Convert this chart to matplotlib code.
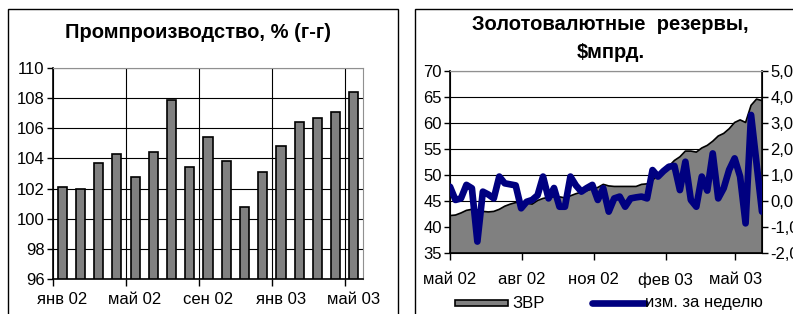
import datetime as dt
import numpy as np
import matplotlib
matplotlib.use('Agg')
import matplotlib.pyplot as plt
import matplotlib.dates as mdates
from matplotlib.patches import Rectangle
from matplotlib.lines import Line2D

plt.rcParams['font.family'] = ['Liberation Sans', 'DejaVu Sans']

# left chart: industrial production, % y/y (Jan 02 .. May 03)
prod_values = [102.1, 102.0, 103.7, 104.3, 102.8, 104.4, 107.9, 103.4, 105.4,
               103.8, 100.8, 103.1, 104.8, 106.4, 106.7, 107.1, 108.4]
prod_labels = ['янв 02', 'май 02', 'сен 02', 'янв 03', 'май 03']

# right chart: reserves ($bn) and weekly change, weekly from May 02
res_start = '2002-05-01'
reserves = [42.2, 42.3, 42.7, 43.2, 43.4, 43.3, 43.0, 42.9, 43.0, 43.4,
            44.0, 44.4, 44.7, 44.8, 44.6, 44.4, 45.1, 45.5, 45.7, 45.8,
            45.8, 45.6, 46.0, 46.4, 46.7, 47.0, 47.3, 47.6, 48.2, 47.9,
            47.8, 47.8, 47.8, 47.8, 47.8, 48.2, 48.3, 49.0, 50.0, 50.8,
            51.7, 52.8, 53.5, 54.6, 54.6, 54.4, 55.2, 55.7, 56.5, 57.5,
            58.0, 58.9, 60.1, 60.6, 60.1, 63.4, 64.6, 64.3]
weekly_change = [0.55, 0.04, 0.10, 0.62, 0.49, -1.56, 0.36, 0.25, 0.10, 0.94,
                 0.68, 0.64, 0.60, -0.28, -0.03, 0.04, 0.22, 0.94, 0.10, 0.50,
                 -0.22, -0.22, 0.94, 0.60, 0.36, 0.50, 0.62, 0.04, 0.49, -0.41,
                 0.10, 0.17, -0.22, 0.10, 0.14, 0.17, 0.10, 1.19, 0.94, 1.15,
                 1.32, 1.35, 0.42, 1.51, 0.04, -0.22, 0.94, 0.40, 1.83, 0.10,
                 0.49, 1.20, 1.64, 0.94, -0.86, 3.31, 1.45, -0.41]
res_ticks = ['2002-05-01', '2002-08-01', '2002-11-01', '2003-02-01', '2003-05-01']
res_tick_labels = ['май 02', 'авг 02', 'ноя 02', 'фев 03', 'май 03']
right_labels = ['-2,0', '-1,0', '0,0', '1,0', '2,0', '3,0', '4,0', '5,0']

W, H = 793, 314
fig = plt.figure(figsize=(W / 100, H / 100), dpi=100)


def px(x0, y0, x1, y1):
    # pixel box (top-left origin) -> figure fraction rect
    return [x0 / W, 1 - y1 / H, (x1 - x0) / W, (y1 - y0) / H]


# frames around each chart
fig.add_artist(Rectangle((8 / W, -0.1), 390 / W, 1.1 - 9 / H, transform=fig.transFigure,
                         fill=False, edgecolor='black', lw=1))
fig.add_artist(Rectangle((415 / W, -0.1), 400 / W, 1.1 - 9 / H, transform=fig.transFigure,
                         fill=False, edgecolor='black', lw=1))

# ---- left chart
ax = fig.add_axes(px(53, 68, 363, 279))
x = np.arange(len(prod_values))
ax.bar(x, np.array(prod_values) - 96, bottom=96, width=0.5, color='#808080',
       edgecolor='black', linewidth=1.2, zorder=3)
ax.set_ylim(96, 110)
ax.set_xlim(-0.5, len(prod_values) - 0.5)
ax.set_yticks(np.arange(96, 111, 2))
ax.set_xticks(np.arange(-0.5, len(prod_values), 4))
ax.set_xticklabels([])
ax.set_xticks(np.arange(0, len(prod_values), 4), minor=True)
ax.set_xticklabels(prod_labels, minor=True)
ax.tick_params(axis='x', which='major', length=5, width=1, direction='out')
ax.tick_params(axis='x', which='minor', length=0, pad=9)
ax.tick_params(axis='y', length=4, width=1, direction='out', pad=2)
ax.tick_params(which='both', labelsize=12)
ax.grid(True, which='major', color='black', lw=0.8, zorder=0)
for s in ['top', 'right']:
    ax.spines[s].set_color('#909090')
for s in ['left', 'bottom']:
    ax.spines[s].set_color('black')
    ax.spines[s].set_linewidth(1.2)
fig.text(198 / W, 1 - 32 / H, 'Промпроизводство, % (г-г)', ha='center', va='center',
         fontsize=14.5, fontweight='bold')

# ---- right chart
dates = [dt.date.fromisoformat(res_start) + dt.timedelta(days=7 * i) for i in range(len(reserves))]
ax2 = fig.add_axes(px(450, 71, 762, 253))
ax2.fill_between(dates, reserves, 35, color='#808080', zorder=2)
ax2.plot(dates, reserves, color='black', lw=1.2, zorder=3)
ax2.set_ylim(35, 70)
ax2.set_xlim(dates[0], dates[-1])
ax2.set_yticks(np.arange(35, 71, 5))
ax2.set_xticks([mdates.date2num(dt.date.fromisoformat(d)) for d in res_ticks])
ax2.set_xticklabels(res_tick_labels)
ax2.tick_params(axis='x', length=5, width=1, pad=9)
ax2.tick_params(axis='y', length=4, width=1, pad=2)
ax2.tick_params(labelsize=12)
ax2.grid(True, axis='y', color='black', lw=0.8, zorder=1)
ax2.spines['top'].set_color('#909090')
ax2.spines['left'].set_linewidth(1.2)
ax2.spines['bottom'].set_linewidth(1.2)

ax3 = ax2.twinx()
ax3.plot(dates, weekly_change, color='#000080', lw=4.8, solid_joinstyle='round',
         solid_capstyle='round', zorder=4)
ax3.set_ylim(-2, 5)
ax3.set_yticks(np.arange(-2, 6, 1))
ax3.set_yticklabels(right_labels)
ax3.tick_params(axis='y', length=4, width=1, pad=2, labelsize=12)
ax3.spines['right'].set_linewidth(1.2)
ax3.spines['top'].set_color('#909090')

fig.text(610 / W, 1 - 25 / H, 'Золотовалютные  резервы,', ha='center', va='center',
         fontsize=14.5, fontweight='bold')
fig.text(611 / W, 1 - 53 / H, '$мпрд.', ha='center', va='center',
         fontsize=14.5, fontweight='bold')

# legend
fig.add_artist(Rectangle((455 / W, 1 - 306 / H), 53 / W, 6 / H, transform=fig.transFigure,
                         facecolor='#808080', edgecolor='black', lw=1.2))
fig.text(512 / W, 1 - 303 / H, 'ЗВР', ha='left', va='center', fontsize=12)
fig.add_artist(Line2D([592 / W, 645 / W], [1 - 303 / H, 1 - 303 / H], transform=fig.transFigure,
                      color='#000080', lw=4.8, solid_capstyle='round'))
fig.text(645 / W, 1 - 303 / H, 'изм. за неделю', ha='left', va='center', fontsize=12)

fig.savefig('out.png', dpi=100)
